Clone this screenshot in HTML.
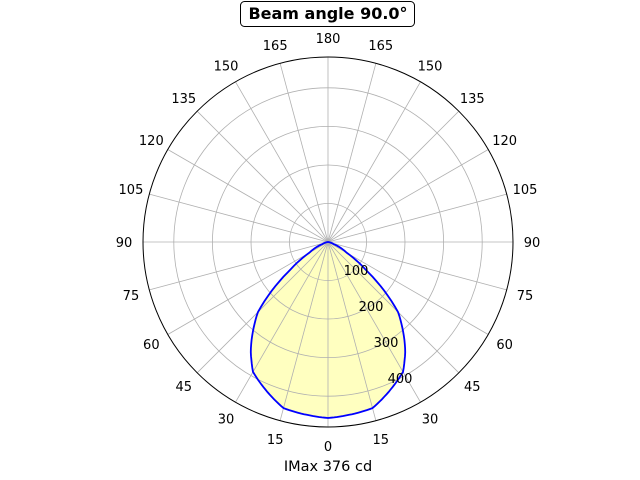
<!DOCTYPE html>
<html><head><meta charset="utf-8"><style>
html,body{margin:0;padding:0;background:#fff;}
svg{display:block;font-family:"DejaVu Sans","Liberation Sans",sans-serif;}
</style></head><body>
<svg id="s" width="640" height="480" viewBox="0 0 640 480" xmlns="http://www.w3.org/2000/svg">
<path id="fill" fill="#ffffc0" stroke="none"/>
<g id="grid"></g>
<path id="curve" fill="none" stroke="#0000ff" stroke-width="1.8"/>
<circle cx="328" cy="242" r="185" fill="none" stroke="#000" stroke-width="1"/>
<g id="labels" font-size="13" text-anchor="middle" fill="#000"></g>
<g font-size="13" text-anchor="middle">
<text x="356" y="275">100</text>
<text x="371" y="311">200</text>
<text x="386" y="347">300</text>
<text x="400" y="383">400</text>
</g>
<rect x="240.5" y="1.5" width="174" height="25" rx="4" fill="#fff" stroke="#000" stroke-width="1"/>
<text x="328" y="19" font-size="16" font-weight="bold" text-anchor="middle">Beam angle 90.0°</text>
<text x="328" y="471" font-size="14.5" text-anchor="middle">IMax 376 cd</text>
</svg>
<script>
var cx=328,cy=242,R=185,ns="http://www.w3.org/2000/svg";
var g=document.getElementById('grid'),lab=document.getElementById('labels');
function el(t,a,p){var e=document.createElementNS(ns,t);for(var k in a)e.setAttribute(k,a[k]);p.appendChild(e);return e;}
[38.5,77,115.6,154.2].forEach(function(r){el('circle',{cx:cx,cy:cy,r:r,fill:'none',stroke:'#b0b0b0','stroke-width':0.8},g);});
for(var a=0;a<360;a+=15){var t=a*Math.PI/180;
el('line',{x1:cx,y1:cy,x2:cx+R*Math.sin(t),y2:cy+R*Math.cos(t),stroke:'#b0b0b0','stroke-width':0.8},g);
var v=a<=180?a:360-a;var tx=cx+204*Math.sin(t),ty=cy+204*Math.cos(t)+5;
var e=el('text',{x:tx,y:ty},lab);e.textContent=v;}
var tb=[[0,176],[15,172],[30,150],[35.5,133],[45,99],[53.6,47],[60,22],[70,6],[80,1],[90,0]];
function f(th){th=Math.abs(th);if(th>=90)return 0;for(var i=1;i<tb.length;i++){if(th<=tb[i][0]){var a=tb[i-1],b=tb[i];return a[1]+(b[1]-a[1])*(th-a[0])/(b[0]-a[0]);}}return 0;}
var d='';for(var th=-90;th<=90;th+=1){var r=f(th),t=th*Math.PI/180;d+=(d?'L':'M')+(cx+r*Math.sin(t)).toFixed(1)+','+(cy+r*Math.cos(t)).toFixed(1);}
document.getElementById('curve').setAttribute('d',d+'Z');
document.getElementById('fill').setAttribute('d',d+'Z');
</script>
</body></html>
